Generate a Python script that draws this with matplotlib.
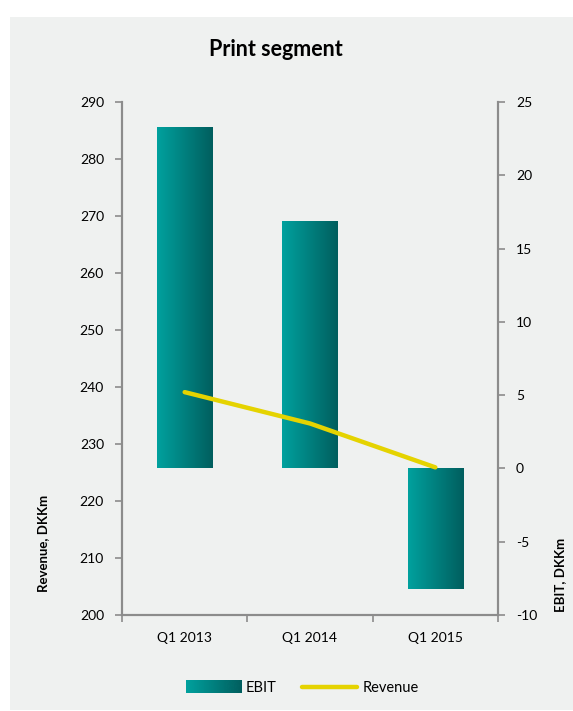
import numpy as np
import matplotlib
matplotlib.use("Agg")
from matplotlib import pyplot as plt
from matplotlib.colors import LinearSegmentedColormap
from matplotlib.legend_handler import HandlerBase
from matplotlib.image import BboxImage
from matplotlib.transforms import Bbox, TransformedBbox
from matplotlib.patches import Rectangle
from matplotlib.lines import Line2D

categories = ["Q1 2013", "Q1 2014", "Q1 2015"]
ebit = [23.2, 16.8, -8.2]
revenue = [239.1, 233.6, 225.9]

plt.rcParams["font.family"] = ["Lato", "DejaVu Sans"]
plt.rcParams["axes.unicode_minus"] = False

bg = "#eff1f0"
axis_col = "#8c8c8c"
teal = LinearSegmentedColormap.from_list("teal", ["#00a19e", "#005e5e"])
grad = np.linspace(0, 1, 256).reshape(1, -1)


class GradientHandler(HandlerBase):
    def create_artists(self, legend, orig_handle, xdescent, ydescent, width, height, fontsize, trans):
        bb = TransformedBbox(Bbox.from_bounds(-xdescent, -ydescent - 1, width, height + 2), trans)
        im = BboxImage(bb, cmap=teal, interpolation="bicubic")
        im.set_data(grad)
        return [im]


fig = plt.figure(figsize=(5.73, 7.11), dpi=100)
fig.patch.set_facecolor("white")
fig.patches.append(Rectangle((10 / 573, 0.0015), 1, 1 - 17 / 711 - 0.0015, transform=fig.transFigure,
                             facecolor=bg, edgecolor="none", zorder=-10))

ax1 = fig.add_axes([122 / 573, 1 - 615 / 711, 376 / 573, 513 / 711])
ax2 = ax1.twinx()
ax1.set_zorder(ax2.get_zorder() + 1)
ax1.patch.set_visible(False)
ax2.patch.set_facecolor(bg)

x = np.arange(len(categories))

# EBIT bars with gradient
bars = ax2.bar(x, ebit, width=0.44, color="none", edgecolor="none")
for b in bars:
    x0, y0 = b.get_x(), b.get_y()
    w, h = b.get_width(), b.get_height()
    ax2.imshow(grad, cmap=teal, aspect="auto", extent=(x0, x0 + w, min(y0, y0 + h), max(y0, y0 + h)),
               interpolation="bicubic", zorder=2)
ax2.set_ylim(-10, 25)
ax2.set_yticks(range(-10, 26, 5))

# Revenue line
ax1.plot(x, revenue, color="#e5d300", linewidth=3.2, solid_capstyle="round", zorder=3)
ax1.set_ylim(200, 290)
ax1.set_yticks(range(200, 291, 10))
ax1.set_xlim(-0.5, 2.5)
ax2.set_xlim(-0.5, 2.5)

ax1.set_xticks([-0.5, 0.5, 1.5, 2.5])
ax1.set_xticklabels([])
ax1.set_xticks(x, minor=True)
ax1.set_xticklabels(categories, minor=True)
ax1.tick_params(axis="x", which="minor", length=0, pad=12, labelsize=10)
ax1.tick_params(axis="x", which="major", length=5, color=axis_col, width=1.2)

for a in (ax1, ax2):
    a.spines["top"].set_visible(False)
    for s in ("left", "right", "bottom"):
        a.spines[s].set_color(axis_col)
        a.spines[s].set_linewidth(1.5)
ax1.tick_params(axis="y", length=5, color=axis_col, width=1.2, labelsize=10, pad=8)
ax2.tick_params(axis="y", length=5, color=axis_col, width=1.2, labelsize=10, pad=8)

fig.text(276 / 573, 1 - 50 / 711, "Print segment", ha="center", va="center", fontsize=15.5, fontweight="bold")
fig.text(43 / 573, 1 - 543 / 711, "Revenue, DKKm", ha="center", va="center", rotation=90,
         fontsize=9.5, fontweight="bold")
fig.text(560 / 573, 1 - 575 / 711, "EBIT, DKKm", ha="center", va="center", rotation=90,
         fontsize=9.5, fontweight="bold")

handles = [Rectangle((0, 0), 1, 1), Line2D([0], [0], color="#e5d300", linewidth=3.2, solid_capstyle="round")]
leg = fig.legend(handles, ["EBIT", "Revenue"], loc="center", bbox_to_anchor=(302 / 573, 1 - 688 / 711),
                 ncol=2, frameon=False, fontsize=10.5, handlelength=3.8, handletextpad=0.35, columnspacing=1.7,
                 handler_map={Rectangle: GradientHandler()})

fig.savefig("out.png", dpi=100, facecolor=fig.get_facecolor())
